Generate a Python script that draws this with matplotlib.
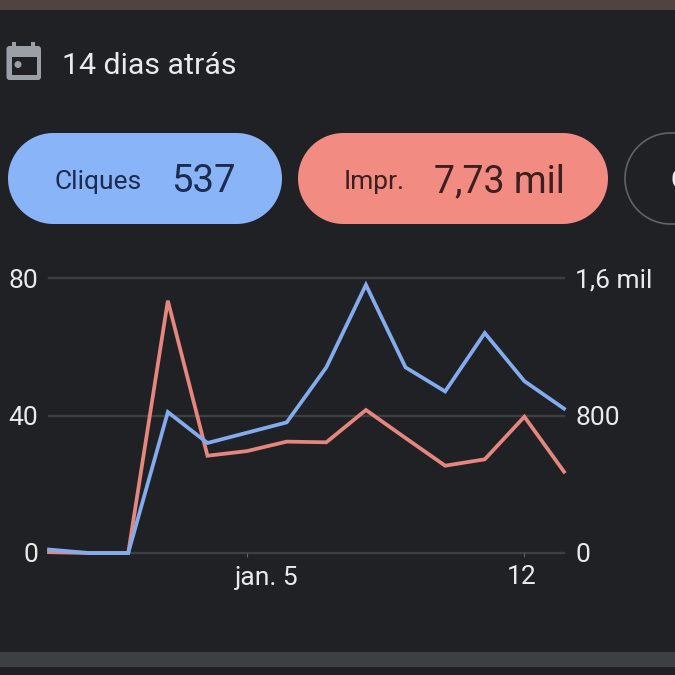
import numpy as np
import matplotlib
matplotlib.use("Agg")
import matplotlib.pyplot as plt
from matplotlib.patches import FancyBboxPatch, Rectangle, Circle, Polygon
from matplotlib.transforms import ScaledTranslation

plt.rcParams['font.family'] = ['Roboto', 'DejaVu Sans']

# Data
clicks = [1, 0, 0, 41, 32, 35, 38, 54, 78, 54, 47, 64, 50, 42]
impressions = [5, 0, 0, 1468, 566, 593, 648, 644, 832, 669, 508, 545, 793, 473]
x_ticks = [5, 12]
x_labels = ["jan. 5", "12"]
left_ticks = [0, 40, 80]
left_labels = ["0", "40", "80"]
right_ticks = [0, 800, 1600]
right_labels = ["0", "800", "1,6 mil"]

BG = "#202124"
GRID = "#3c4043"
TXT = "#e8eaed"
BLUE = "#8ab4f8"
BLUE_LINE = "#82acee"
RED = "#f28b82"
RED_LINE = "#e5867f"

W = H = 675
fig = plt.figure(figsize=(6.75, 6.75), dpi=100, facecolor=BG)

# Overlay in pixel coordinates for interface elements
ov = fig.add_axes([0, 0, 1, 1], zorder=0)
ov.set_xlim(0, W)
ov.set_ylim(H, 0)
ov.axis("off")


def pill(x0, x1, y0, y1, **kw):
    r = (y1 - y0) / 2
    cy = (y0 + y1) / 2
    t = np.linspace(-np.pi / 2, np.pi / 2, 60)
    right = np.c_[x1 - r + r * np.cos(t), cy + r * np.sin(t)]
    left = np.c_[x0 + r - r * np.cos(t[::-1]), cy + r * np.sin(t[::-1])]
    ov.add_patch(Polygon(np.r_[right, left], closed=True, **kw))


ov.add_patch(Rectangle((0, 0), W, 9.5, fc="#4f4343", ec="none"))
ov.add_patch(Rectangle((0, 652), W, 15, fc="#3c4043", ec="none"))

# Calendar icon
ICON = "#9aa0a6"
ov.add_patch(FancyBboxPatch((6.5, 46), 34.5, 34, boxstyle="round,pad=0,rounding_size=3", fc=ICON, ec="none"))
ov.add_patch(Rectangle((12, 42), 4, 6, fc=ICON, ec="none"))
ov.add_patch(Rectangle((31, 42), 4, 6, fc=ICON, ec="none"))
ov.add_patch(Rectangle((11.5, 57), 25, 18, fc=BG, ec="none"))
ov.add_patch(Circle((18, 64.5), 3.5, fc=ICON, ec="none"))
ov.text(62.5, 66, "14 dias atrás", color=TXT, fontsize=21.9, va="center", ha="left")

# Pills
pill(8, 282, 133, 224, fc=BLUE, ec="none")
pill(298, 608, 133, 224, fc=RED, ec="none")
pill(625, 825, 133, 224, fc="none", ec="#5f6368", lw=1.2)
ov.text(55, 181.5, "Cliques", color="#1b2c4e", fontsize=19, va="center", ha="left")
ov.text(171.5, 181.5, "537", color="#1b2c4e", fontsize=27.5, va="center", ha="left")
ov.text(344, 181.5, "Impr.", color="#3c1f1f", fontsize=19, va="center", ha="left")
ov.text(433.5, 181.5, "7,73 mil", color="#3c1f1f", fontsize=27, va="center", ha="left")
ov.text(670, 181.5, "C", color=TXT, fontsize=19, va="center", ha="left")

# Chart
rect = [49 / W, 1 - 553 / H, (564 - 49) / W, (553 - 278) / H]
ax_r = fig.add_axes(rect, zorder=1)
ax_l = fig.add_axes(rect, zorder=2)
ax_l.patch.set_visible(False)
ax_r.patch.set_visible(False)

xs = np.arange(len(clicks))
ax_r.plot(xs, impressions, color=RED_LINE, lw=2.7, solid_joinstyle="miter", clip_on=False)
ax_l.plot(xs, clicks, color=BLUE_LINE, lw=2.7, solid_joinstyle="miter", clip_on=False)

ax_l.set_xlim(0, len(clicks) - 1)
ax_r.set_xlim(0, len(clicks) - 1)
ax_l.set_ylim(0, 80)
ax_r.set_ylim(0, 1600)

for a in (ax_l, ax_r):
    for s in a.spines.values():
        s.set_visible(False)

ax_r.set_yticks(right_ticks, right_labels)
ax_r.yaxis.tick_right()
ax_r.tick_params(axis="y", length=0, pad=8, labelsize=19, labelcolor=TXT)
ax_r.set_xticks([])
ax_r.grid(axis="y", color=GRID, lw=1.7, zorder=0)
ax_r.set_axisbelow(True)
for gl in ax_r.get_ygridlines():
    gl.set_clip_on(False)

ax_l.set_yticks(left_ticks, left_labels)
ax_l.tick_params(axis="y", length=0, pad=8, labelsize=19, labelcolor=TXT)
ax_l.set_xticks(x_ticks, x_labels)
ax_l.tick_params(axis="x", length=3, width=0.8, color="#5f6368", pad=6, labelsize=19, labelcolor=TXT)

labels = ax_l.get_xticklabels()
labels[0].set_transform(labels[0].get_transform() + ScaledTranslation(20 / 100, 0, fig.dpi_scale_trans))
labels[1].set_transform(labels[1].get_transform() + ScaledTranslation(-3 / 100, 0, fig.dpi_scale_trans))

fig.savefig("out.png", dpi=100, facecolor=BG)
